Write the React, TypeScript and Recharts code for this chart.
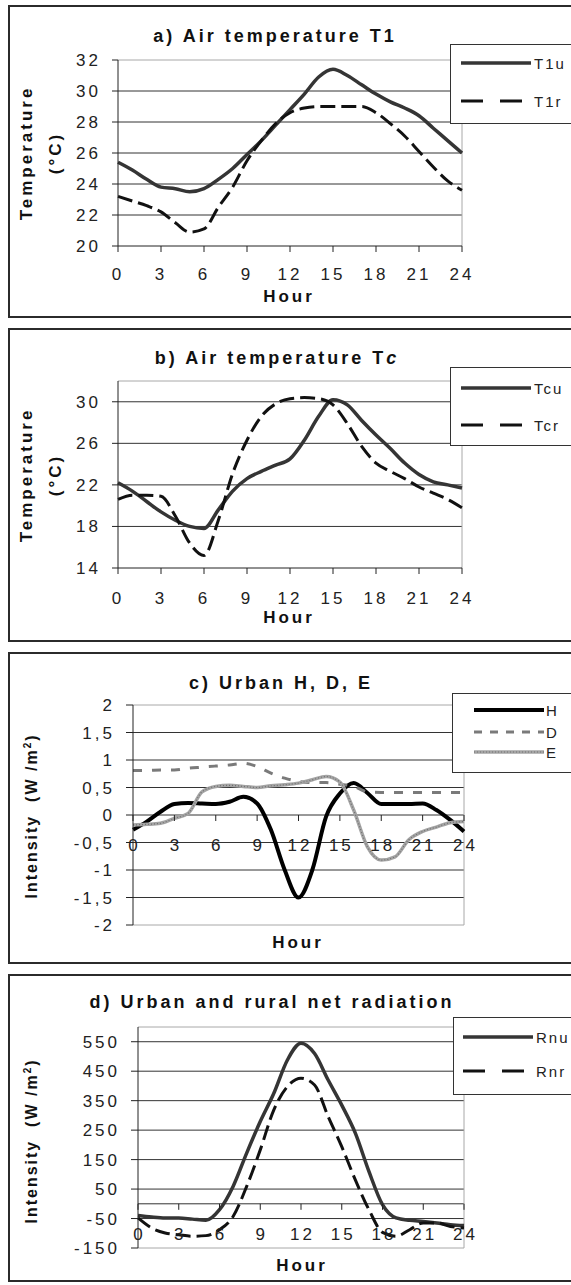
import React from 'react';
import { LineChart, Line, XAxis, YAxis, ReferenceLine, ReferenceDot, Legend } from 'recharts';

const FONT = '"Liberation Sans", Arial, sans-serif';
const INK = '#222';
const FRAME = '#a8a8a8';

const HOURS = [0, 1, 2, 3, 4, 5, 6, 7, 8, 9, 10, 11, 12, 13, 14, 15, 16, 17, 18, 19, 20, 21, 22, 23, 24];
const HOUR_TICKS = [0, 3, 6, 9, 12, 15, 18, 21, 24];

// a) air temperature T1 (°C)
const T1_URBAN = [25.4, 24.9, 24.3, 23.8, 23.7, 23.5, 23.7, 24.3, 25.0, 25.9, 26.8, 27.8, 28.8, 29.8, 30.9, 31.4, 31.0, 30.4, 29.8, 29.3, 28.9, 28.4, 27.6, 26.8, 26.0];
const T1_RURAL = [23.2, 22.9, 22.6, 22.2, 21.5, 20.9, 21.1, 22.5, 23.8, 25.5, 26.8, 27.9, 28.6, 28.9, 29.0, 29.0, 29.0, 29.0, 28.6, 27.9, 27.1, 26.1, 25.1, 24.2, 23.6];
const T1_TICKS = [20, 22, 24, 26, 28, 30, 32];

// b) air temperature Tc (°C)
const TC_URBAN = [22.2, 21.4, 20.4, 19.4, 18.6, 18.0, 17.8, 19.6, 21.4, 22.6, 23.3, 23.9, 24.5, 26.3, 28.6, 30.2, 29.7, 28.2, 26.8, 25.5, 24.1, 23.0, 22.3, 22.0, 21.7];
const TC_RURAL = [20.6, 21.0, 21.0, 20.9, 19.0, 16.4, 15.2, 18.6, 23.1, 26.3, 28.6, 29.8, 30.3, 30.4, 30.3, 29.7, 27.9, 25.7, 24.1, 23.3, 22.6, 21.8, 21.2, 20.6, 19.8];
const TC_TICKS = [14, 18, 22, 26, 30];

// c) urban H, D, E (W/m2)
const H_URBAN = [-0.27, -0.12, 0.06, 0.2, 0.22, 0.21, 0.2, 0.24, 0.33, 0.21, -0.27, -1.0, -1.5, -1.0, -0.03, 0.39, 0.58, 0.4, 0.2, 0.2, 0.2, 0.21, 0.09, -0.09, -0.3];
const D_URBAN = [0.81, 0.81, 0.82, 0.82, 0.85, 0.87, 0.89, 0.91, 0.94, 0.88, 0.76, 0.67, 0.61, 0.59, 0.59, 0.56, 0.52, 0.42, 0.41, 0.41, 0.41, 0.41, 0.41, 0.41, 0.41];
const E_URBAN = [-0.18, -0.17, -0.15, -0.06, 0.03, 0.42, 0.52, 0.54, 0.52, 0.5, 0.53, 0.55, 0.58, 0.64, 0.7, 0.6, 0.09, -0.58, -0.82, -0.76, -0.45, -0.3, -0.22, -0.14, -0.12];
const HDE_TICKS = [-2, -1.5, -1, -0.5, 0, 0.5, 1, 1.5, 2];

// d) urban and rural net radiation (W/m2)
const RN_URBAN = [-40, -45, -48, -48, -52, -56, -20, 59, 172, 279, 375, 488, 545, 510, 420, 335, 240, 110, -3, -48, -56, -60, -65, -71, -74];
const RN_RURAL = [-48, -82, -99, -105, -110, -108, -88, -43, 59, 183, 319, 398, 426, 403, 296, 194, 81, -20, -97, -110, -88, -65, -65, -77, -82];
const RN_TICKS = [-150, -50, 50, 150, 250, 350, 450, 550];

type Series = {
  key: string;
  name: string;
  values: number[];
  color: string;
  width: number;
  dash?: string;
  legendDash?: string;
  speckle?: boolean;
};

type PanelDef = {
  top: number;
  height: number;
  plot: { top: number; bottom: number; left: number; right: number };
  title: React.ReactNode;
  titleAt: [number, number];
  yLabel: React.ReactNode[];
  yLabelX: number[];
  yLabelY: number;
  yLabelSize: number;
  hourAt: [number, number];
  yDomain: [number, number];
  yTicks: number[];
  grid: number[];
  axisAtZero: boolean;
  xTickMargin: number;
  yTickSize: number;
  yTickMargin: number;
  decimalComma?: boolean;
  legend: { left: number; top: number; height: number; rows: number[]; lineFrom: number; lineTo: number; textAt: number };
  series: Series[];
};

const unitLabel = (
  <span>
    Intensity&nbsp; (W /m<sup style={{ fontSize: 10 }}>2</sup>)
  </span>
);

const PANELS: PanelDef[] = [
  {
    top: 5,
    height: 313,
    plot: { top: 60, bottom: 246, left: 118, right: 462 },
    title: 'a) Air temperature T1',
    titleAt: [275, 36],
    yLabel: ['Temperature', '(°C)'],
    yLabelX: [26, 55],
    yLabelY: 153,
    yLabelSize: 17,
    hourAt: [289, 296],
    yDomain: [20, 32],
    yTicks: T1_TICKS,
    grid: [22, 24, 26, 28, 30],
    axisAtZero: false,
    xTickMargin: 16,
    yTickSize: 6,
    yTickMargin: 11,
    legend: { left: 450, top: 44, height: 80, rows: [62, 100], lineFrom: 460, lineTo: 530, textAt: 533 },
    series: [
      { key: 't1u', name: 'T1u', values: T1_URBAN, color: '#353535', width: 3.5 },
      { key: 't1r', name: 'T1r', values: T1_RURAL, color: '#111', width: 3, dash: '15 6', legendDash: '22 17' },
    ],
  },
  {
    top: 328,
    height: 314,
    plot: { top: 381, bottom: 568, left: 118, right: 462 },
    title: (
      <span>
        b) Air temperature T<i>c</i>
      </span>
    ),
    titleAt: [277, 358],
    yLabel: ['Temperature', '(°C)'],
    yLabelX: [26, 55],
    yLabelY: 475,
    yLabelSize: 17,
    hourAt: [289, 617],
    yDomain: [14, 32],
    yTicks: TC_TICKS,
    grid: [18, 22, 26, 30],
    axisAtZero: false,
    xTickMargin: 18,
    yTickSize: 6,
    yTickMargin: 11,
    legend: { left: 450, top: 367, height: 79, rows: [387, 424], lineFrom: 460, lineTo: 530, textAt: 533 },
    series: [
      { key: 'tcu', name: 'Tcu', values: TC_URBAN, color: '#353535', width: 3.5 },
      { key: 'tcr', name: 'Tcr', values: TC_RURAL, color: '#111', width: 3, dash: '15 6', legendDash: '22 17' },
    ],
  },
  {
    top: 652,
    height: 312,
    plot: { top: 705, bottom: 925, left: 133, right: 464 },
    title: 'c) Urban H, D, E',
    titleAt: [281, 683],
    yLabel: [unitLabel],
    yLabelX: [32],
    yLabelY: 816,
    yLabelSize: 16,
    hourAt: [298, 942],
    yDomain: [-2, 2],
    yTicks: HDE_TICKS,
    grid: [-1.5, -1, -0.5, 0, 0.5, 1, 1.5],
    axisAtZero: true,
    xTickMargin: 0,
    yTickSize: 7,
    yTickMargin: 11,
    decimalComma: true,
    legend: { left: 452, top: 693, height: 80, rows: [709, 731, 751], lineFrom: 473, lineTo: 543, textAt: 545 },
    series: [
      { key: 'h', name: 'H', values: H_URBAN, color: '#000', width: 4 },
      { key: 'd', name: 'D', values: D_URBAN, color: '#7a7a7a', width: 3, dash: '9 10', legendDash: '8 8' },
      { key: 'e', name: 'E', values: E_URBAN, color: '#a4a4a4', width: 3.5, speckle: true },
    ],
  },
  {
    top: 974,
    height: 308,
    plot: { top: 1027, bottom: 1248, left: 138, right: 464 },
    title: 'd) Urban and rural net radiation',
    titleAt: [272, 1002],
    yLabel: [unitLabel],
    yLabelX: [32],
    yLabelY: 1141,
    yLabelSize: 16,
    hourAt: [302, 1265],
    yDomain: [-150, 600],
    yTicks: RN_TICKS,
    grid: [-50, 0, 50, 150, 250, 350, 450, 550],
    axisAtZero: true,
    xTickMargin: 0,
    yTickSize: 7,
    yTickMargin: 11,
    legend: { left: 453, top: 1017, height: 78, rows: [1036, 1070], lineFrom: 462, lineTo: 532, textAt: 535 },
    series: [
      { key: 'rnu', name: 'Rnu', values: RN_URBAN, color: '#353535', width: 3.5 },
      { key: 'rnr', name: 'Rnr', values: RN_RURAL, color: '#111', width: 3, dash: '15 6', legendDash: '22 17' },
    ],
  },
];

const tickStyle = { fontSize: 17, fill: INK, fontFamily: FONT, letterSpacing: 3 };

function LegendBox({ p }: { p: PanelDef }) {
  const lg = p.legend;
  return (
    <div
      style={{
        width: 160,
        height: lg.height,
        border: '1px solid #333',
        background: '#fff',
        boxSizing: 'border-box',
        position: 'relative',
      }}
    >
      {p.series.map((s, i) => {
        const y = lg.rows[i] - lg.top;
        return (
          <div key={s.key}>
            <svg
              width={lg.lineTo - lg.left + 2}
              height={10}
              style={{ position: 'absolute', left: 0, top: y - 5 }}
            >
              <line
                x1={lg.lineFrom - lg.left}
                x2={lg.lineTo - lg.left}
                y1={5}
                y2={5}
                stroke={s.color}
                strokeWidth={s.width}
                strokeDasharray={s.legendDash}
              />
              {s.speckle && (
                <line
                  x1={lg.lineFrom - lg.left}
                  x2={lg.lineTo - lg.left}
                  y1={5}
                  y2={5}
                  stroke="#707070"
                  strokeWidth={1.2}
                  strokeDasharray="1 2"
                />
              )}
            </svg>
            <div
              style={{
                position: 'absolute',
                left: lg.textAt - lg.left,
                top: y,
                transform: 'translateY(-50%)',
                font: `15px ${FONT}`,
                letterSpacing: 2,
                color: INK,
                lineHeight: 1,
                whiteSpace: 'nowrap',
              }}
            >
              {s.name}
            </div>
          </div>
        );
      })}
    </div>
  );
}

function Panel({ p }: { p: PanelDef }) {
  const rows = HOURS.map((hour, i) => {
    const row: Record<string, number> = { hour };
    p.series.forEach((s) => {
      row[s.key] = s.values[i];
    });
    return row;
  });
  const xAxisH = p.axisAtZero ? 0 : 30;
  const margin = {
    top: p.plot.top - p.top,
    right: 571 - p.plot.right,
    bottom: p.top + p.height - p.plot.bottom - xAxisH,
    left: 0,
  };
  const fmt = (v: number) => (p.decimalComma ? String(v).replace('.', ',') : String(v));
  const textBase: React.CSSProperties = {
    position: 'absolute',
    whiteSpace: 'nowrap',
    lineHeight: 1,
    color: '#111',
    fontFamily: FONT,
    fontWeight: 'bold',
  };

  return (
    <>
      <div
        style={{
          position: 'absolute',
          left: 8,
          top: p.top,
          width: 620,
          height: p.height,
          border: '2px solid #2b2b2b',
          boxSizing: 'border-box',
        }}
      />
      <div style={{ position: 'absolute', left: 0, top: p.top }}>
        <LineChart width={571} height={p.height} data={rows} margin={margin}>
          <XAxis
            type="number"
            dataKey="hour"
            domain={[0, 24]}
            ticks={HOUR_TICKS}
            interval={0}
            hide={p.axisAtZero}
            height={xAxisH}
            tickSize={6}
            tickMargin={p.xTickMargin}
            tick={tickStyle}
            tickLine={{ stroke: INK }}
            axisLine={{ stroke: INK, strokeWidth: 1 }}
          />
          <YAxis
            type="number"
            domain={p.yDomain}
            ticks={p.yTicks}
            interval={0}
            allowDataOverflow
            width={p.plot.left}
            tickSize={p.yTickSize}
            tickMargin={p.yTickMargin}
            tick={tickStyle}
            tickFormatter={fmt}
            tickLine={{ stroke: INK }}
            axisLine={{ stroke: INK, strokeWidth: 1 }}
          />
          {p.grid.map((v) => (
            <ReferenceLine key={`g${v}`} y={v} stroke="#333" strokeWidth={1} />
          ))}
          <ReferenceLine y={p.yDomain[1]} stroke={FRAME} strokeWidth={1} />
          <ReferenceLine x={24} stroke={FRAME} strokeWidth={1} />
          {p.axisAtZero && <ReferenceLine y={p.yDomain[0]} stroke={FRAME} strokeWidth={1} />}
          {p.axisAtZero &&
            HOUR_TICKS.map((t) => (
              <ReferenceDot
                key={`t${t}`}
                x={t}
                y={0}
                r={0}
                shape={(sp: any) => (
                  <g>
                    <line x1={sp.cx} x2={sp.cx} y1={sp.cy} y2={sp.cy + 6} stroke={INK} strokeWidth={1} />
                    <text
                      x={sp.cx + 1.5}
                      y={sp.cy + 30}
                      dy="0.35em"
                      textAnchor="middle"
                      fontSize={17}
                      fontFamily={FONT}
                      letterSpacing={3}
                      fill={INK}
                    >
                      {t}
                    </text>
                  </g>
                )}
              />
            ))}
          {p.series.map((s) => (
            <Line
              key={s.key}
              type="monotone"
              dataKey={s.key}
              name={s.name}
              stroke={s.color}
              strokeWidth={s.width}
              strokeDasharray={s.dash}
              dot={false}
              activeDot={false}
              isAnimationActive={false}
            />
          ))}
          {p.series
            .filter((s) => s.speckle)
            .map((s) => (
              <Line
                key={`${s.key}-speckle`}
                type="monotone"
                dataKey={s.key}
                stroke="#707070"
                strokeWidth={1.2}
                strokeDasharray="1 2"
                dot={false}
                activeDot={false}
                legendType="none"
                isAnimationActive={false}
              />
            ))}
          <Legend
            layout="vertical"
            align="center"
            verticalAlign="middle"
            content={() => <LegendBox p={p} />}
            wrapperStyle={{
              position: 'absolute',
              left: p.legend.left,
              top: p.legend.top - p.top,
              width: 160,
              height: p.legend.height,
              margin: 0,
            }}
          />
        </LineChart>
      </div>
      <div
        style={{
          ...textBase,
          left: p.titleAt[0],
          top: p.titleAt[1],
          transform: 'translate(-50%, -50%)',
          fontSize: 18,
          letterSpacing: 3,
        }}
      >
        {p.title}
      </div>
      <div
        style={{
          ...textBase,
          left: p.hourAt[0],
          top: p.hourAt[1],
          transform: 'translate(-50%, -50%)',
          fontSize: 17,
          letterSpacing: 3,
        }}
      >
        Hour
      </div>
      {p.yLabel.map((txt, i) => (
        <div
          key={i}
          style={{
            ...textBase,
            left: p.yLabelX[i],
            top: p.yLabelY,
            transform: 'translate(-50%, -50%) rotate(-90deg)',
            fontSize: p.yLabelSize,
            letterSpacing: p.yLabelSize === 17 ? 3 : 2,
          }}
        >
          {txt}
        </div>
      ))}
    </>
  );
}

export default function App() {
  return (
    <div
      style={{
        position: 'absolute',
        left: 0,
        top: 0,
        width: 571,
        height: 1285,
        overflow: 'hidden',
        background: '#fff',
      }}
    >
      {PANELS.map((p, i) => (
        <Panel key={i} p={p} />
      ))}
    </div>
  );
}
